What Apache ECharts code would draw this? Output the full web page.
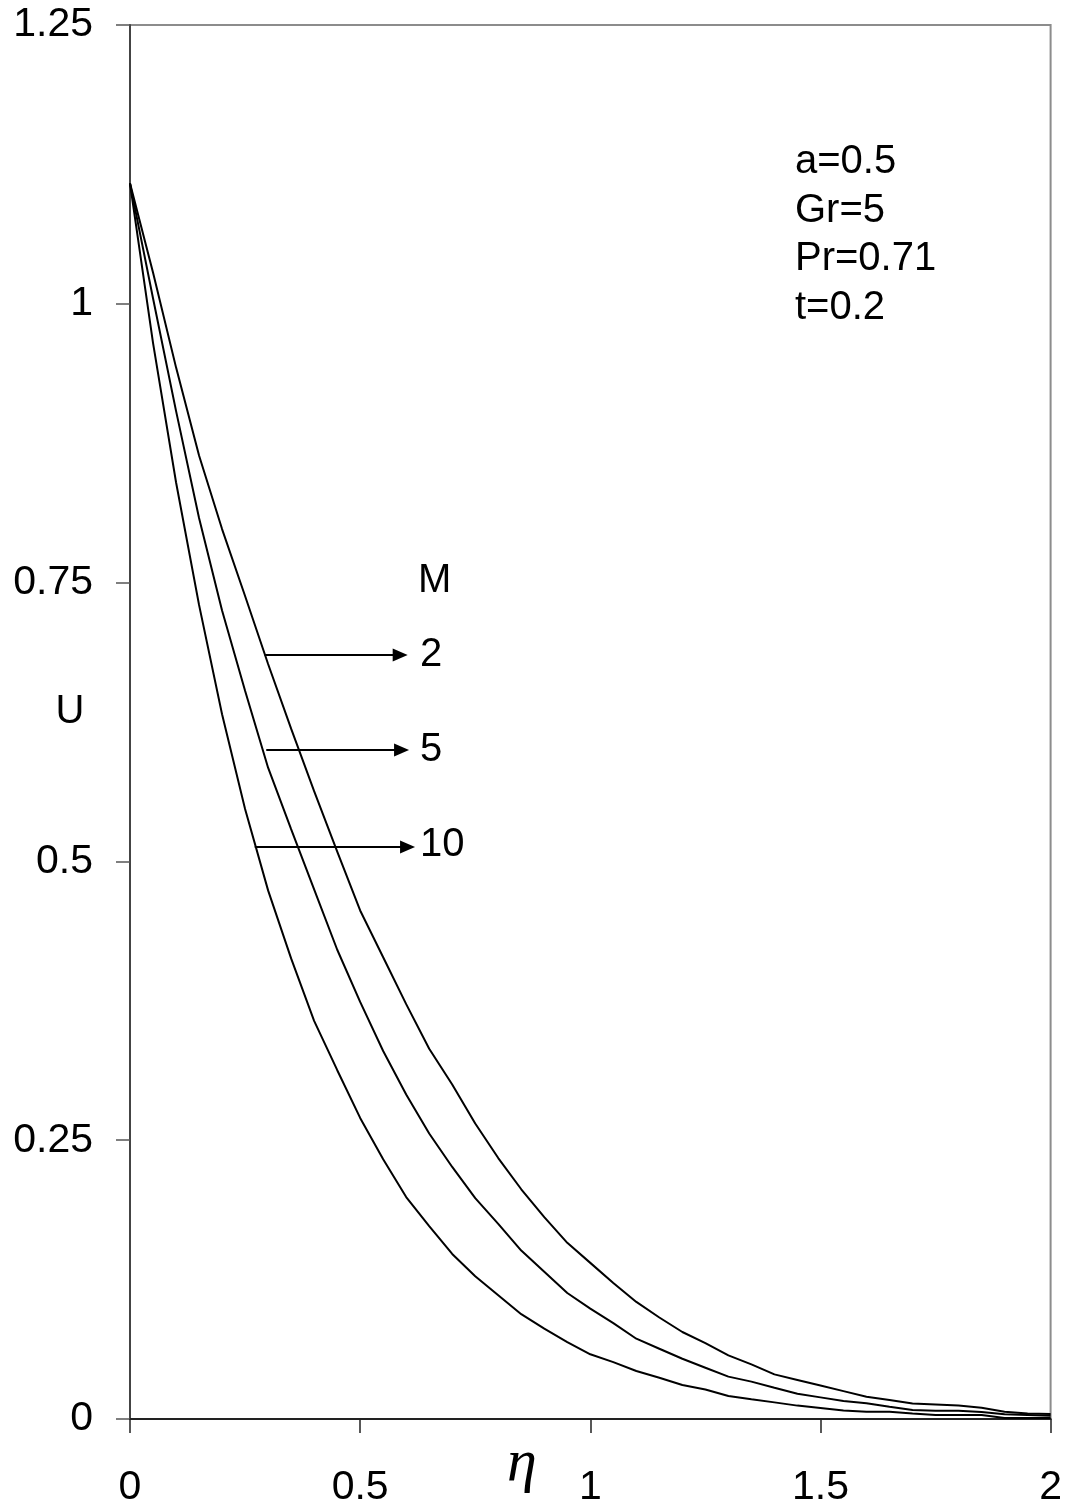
<!DOCTYPE html>
<html>
<head>
<meta charset="utf-8">
<script src="https://cdn.jsdelivr.net/npm/echarts@6/dist/echarts.min.js"></script>
<style>
  html, body { margin: 0; padding: 0; background: #ffffff; }
  #chart { width: 1065px; height: 1508px; }
</style>
</head>
<body>
<div id="chart"></div>
<script>
// η values (x axis)
const eta = [0, 0.05, 0.1, 0.15, 0.2, 0.25, 0.3, 0.35, 0.4, 0.45, 0.5,
             0.55, 0.6, 0.65, 0.7, 0.75, 0.8, 0.85, 0.9, 0.95, 1.0,
             1.05, 1.1, 1.15, 1.2, 1.25, 1.3, 1.35, 1.4, 1.45, 1.5,
             1.55, 1.6, 1.65, 1.7, 1.75, 1.8, 1.85, 1.9, 1.95, 2.0];

// U for M = 2
const uM2 = [1.108, 1.028, 0.943, 0.864, 0.798, 0.738, 0.677, 0.619, 0.563, 0.509, 0.456,
             0.414, 0.372, 0.332, 0.300, 0.265, 0.234, 0.206, 0.181, 0.158, 0.140,
             0.122, 0.105, 0.091, 0.078, 0.068, 0.057, 0.049, 0.040, 0.035, 0.030,
             0.025, 0.020, 0.017, 0.014, 0.013, 0.012, 0.010, 0.0065, 0.005, 0.0045];

// U for M = 5
const uM5 = [1.108, 1.005, 0.904, 0.808, 0.725, 0.653, 0.584, 0.529, 0.475, 0.421, 0.374,
             0.330, 0.291, 0.256, 0.226, 0.198, 0.175, 0.151, 0.132, 0.113, 0.099,
             0.086, 0.072, 0.063, 0.054, 0.046, 0.038, 0.0335, 0.028, 0.0226, 0.0194,
             0.0162, 0.0142, 0.011, 0.008, 0.0074, 0.0074, 0.0063, 0.0042, 0.0036, 0.003];

// U for M = 10
const uM10 = [1.108, 0.965, 0.840, 0.730, 0.632, 0.547, 0.474, 0.413, 0.357, 0.313, 0.270,
              0.233, 0.199, 0.173, 0.148, 0.128, 0.111, 0.094, 0.081, 0.069, 0.058,
              0.051, 0.043, 0.037, 0.0305, 0.0265, 0.0206, 0.0177, 0.0149, 0.012, 0.0098,
              0.0076, 0.0065, 0.0065, 0.005, 0.0036, 0.0036, 0.0036, 0.001, 0.001, 0.001];

// axis ticks
const xTicks = [0, 0.5, 1, 1.5, 2];
const yTicks = [0, 0.25, 0.5, 0.75, 1, 1.25];

// annotation arrows (from curve to label), in data units
const arrowLabels = ['2', '5', '10'];
const arrowU      = [0.685, 0.600, 0.513];
const arrowFrom   = [0.2925, 0.296, 0.271];
const arrowTo     = [0.587, 0.590, 0.603];

// parameter text block
const paramLines = ['a=0.5', 'Gr=5', 'Pr=0.71', 't=0.2'];

const FONT = '"Liberation Sans", Arial, sans-serif';

const chart = echarts.init(document.getElementById('chart'), null, { renderer: 'canvas' });

function mkSeries(name, arr) {
  return {
    name: name,
    type: 'line',
    data: eta.map((x, i) => [x, arr[i]]),
    showSymbol: false,
    symbol: 'none',
    smooth: false,
    lineStyle: { color: '#000', width: 2 },
    z: 3,
    animation: false
  };
}

const arrowData = arrowLabels.map((lab, i) => [
  { coord: [arrowFrom[i], arrowU[i]] },
  { coord: [arrowTo[i], arrowU[i]] }
]);

const graphics = [];
graphics.push({ type: 'text', x: 70, y: 712,
  style: { text: 'U', font: '40px ' + FONT, fill: '#000', align: 'center', verticalAlign: 'middle' } });
graphics.push({ type: 'text', x: 522, y: 1464,
  style: { text: 'η', font: 'italic 60px "Liberation Serif", "Times New Roman", serif', fill: '#000', align: 'center', verticalAlign: 'middle' } });
graphics.push({ type: 'text', x: 418, y: 581,
  style: { text: 'M', font: '40px ' + FONT, fill: '#000', align: 'left', verticalAlign: 'middle' } });
const labelY = [655, 750, 845];
arrowLabels.forEach((lab, i) => {
  graphics.push({ type: 'text', x: 420, y: labelY[i],
    style: { text: lab, font: '40px ' + FONT, fill: '#000', align: 'left', verticalAlign: 'middle' } });
});
paramLines.forEach((t, i) => {
  graphics.push({ type: 'text', x: 795, y: 162 + i * 48.5,
    style: { text: t, font: '40px ' + FONT, fill: '#000', align: 'left', verticalAlign: 'middle' } });
});

const option = {
  backgroundColor: '#ffffff',
  animation: false,
  grid: {
    left: 130, right: 12, top: 25, bottom: 89,
    show: true, borderColor: '#8c8c8c', borderWidth: 2, backgroundColor: 'transparent'
  },
  xAxis: {
    type: 'value', min: 0, max: 2, interval: 0.5,
    axisLine: { show: true, onZero: false, lineStyle: { color: '#222', width: 2 } },
    axisTick: { show: true, inside: false, length: 14, lineStyle: { color: '#222', width: 1.5 } },
    axisLabel: {
      show: true, margin: 48, color: '#000', fontSize: 41, fontFamily: FONT,
      formatter: v => (xTicks.indexOf(v) >= 0 ? String(v) : '')
    },
    splitLine: { show: false }
  },
  yAxis: {
    type: 'value', min: 0, max: 1.25, interval: 0.25,
    axisLine: { show: true, onZero: false, lineStyle: { color: '#444', width: 2 } },
    axisTick: { show: true, inside: false, length: 14, lineStyle: { color: '#555', width: 1.5 } },
    axisLabel: {
      show: true, margin: 37, color: '#000', fontSize: 41, fontFamily: FONT,
      formatter: v => (yTicks.indexOf(v) >= 0 ? String(v) : '')
    },
    splitLine: { show: false }
  },
  series: [
    mkSeries('M=2', uM2),
    mkSeries('M=5', uM5),
    mkSeries('M=10', uM10),
    {
      name: 'arrows', type: 'line', data: [], showSymbol: false,
      markLine: {
        silent: true, animation: false,
        symbol: ['none', 'triangle'], symbolSize: [13, 15],
        lineStyle: { color: '#000', width: 2, type: 'solid' },
        label: { show: false },
        emphasis: { disabled: true },
        data: arrowData
      }
    }
  ],
  graphic: graphics
};

chart.setOption(option);
</script>
</body>
</html>
